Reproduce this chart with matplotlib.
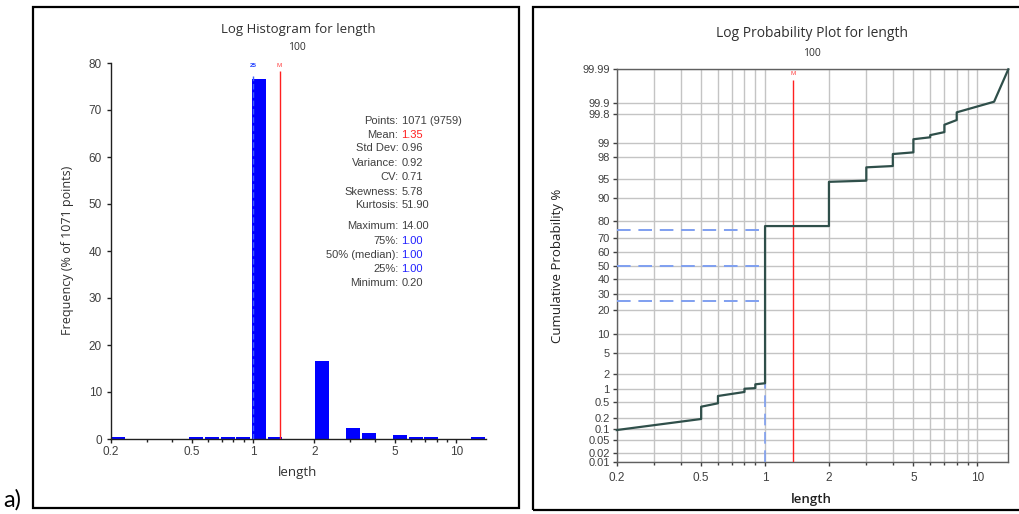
import numpy as np
import matplotlib
matplotlib.use("Agg")
import matplotlib.pyplot as plt
from matplotlib.patches import Rectangle
from matplotlib.ticker import FixedLocator, NullLocator, NullFormatter
from statistics import NormalDist

# ---- histogram data (log bins, % of 1071 points) ----
bar_left = [0.200, 0.486, 0.580, 0.693, 0.828, 0.988, 1.180, 2.011, 2.868, 3.425, 4.885, 5.834, 6.966, 11.87]
bar_right = [0.234, 0.570, 0.680, 0.812, 0.970, 1.158, 1.383, 2.357, 3.361, 4.014, 5.725, 6.837, 8.164, 13.91]
bar_height = [0.4, 0.4, 0.4, 0.4, 0.4, 76.5, 0.4, 16.7, 2.4, 1.3, 0.9, 0.4, 0.4, 0.4]

mean_val = 1.35
quartile_val = 1.0

stat_names = ["Points:", "Mean:", "Std Dev:", "Variance:", "CV:", "Skewness:", "Kurtosis:",
              "Maximum:", "75%:", "50% (median):", "25%:", "Minimum:"]
stat_values = ["1071 (9759)", "1.35", "0.96", "0.92", "0.71", "5.78", "51.90",
               "14.00", "1.00", "1.00", "1.00", "0.20"]
stat_colors = ["#404040", "#ff2020", "#404040", "#404040", "#404040", "#404040", "#404040",
               "#404040", "#2020ff", "#2020ff", "#2020ff", "#404040"]
stat_rows_px = [121.3, 134.7, 148.3, 163, 176.7, 191.7, 205.3, 226, 240.7, 254.7, 269, 283]

# ---- cumulative probability curve (length, cumulative %) ----
cdf_x = [0.2, 0.5, 0.5, 0.6, 0.6, 0.8, 0.8, 0.9, 0.9, 1.0, 1.0, 2.0, 2.0, 3.0, 3.0, 4.0, 4.0,
         5.0, 5.0, 6.0, 6.0, 7.0, 7.0, 8.0, 8.0, 12.0, 14.0]
cdf_p = [0.094, 0.187, 0.383, 0.463, 0.687, 0.847, 1.00, 1.03, 1.245, 1.31, 77.4, 77.4, 94.4,
         94.64, 96.88, 97.05, 98.28, 98.41, 99.17, 99.25, 99.33, 99.43, 99.62, 99.71, 99.816,
         99.905, 99.99]
quartiles_p = [25, 50, 75]

prob_ticks = [0.01, 0.02, 0.05, 0.1, 0.2, 0.5, 1, 2, 5, 10, 20, 30, 40, 50, 60, 70, 80,
              90, 95, 98, 99, 99.8, 99.9, 99.99]
prob_labels = ["0.01", "0.02", "0.05", "0.1", "0.2", "0.5", "1", "2", "5", "10", "20", "30",
               "40", "50", "60", "70", "80", "90", "95", "98", "99", "99.8", "99.9", "99.99"]
x_major = [0.2, 0.5, 1, 2, 5, 10]
x_major_labels = ["0.2", "0.5", "1", "2", "5", "10"]
x_minor = [0.3, 0.4, 0.6, 0.7, 0.8, 0.9, 3, 4, 6, 7, 8, 9]

W, H = 1019, 514
fig = plt.figure(figsize=(W / 100, H / 100), dpi=100)
fig.patch.set_facecolor("white")


def fx(x):
    return x / W


def fy(y):
    return 1 - y / H


TXT = "#303030"
TICK = "#404040"
TITLE_FONT = ["Open Sans", "DejaVu Sans"]
TICK_FONT = ["Liberation Sans", "DejaVu Sans"]

# outer frames
fig.patches.append(Rectangle((fx(33.3), fy(508.3)), fx(519.3 - 33.3), (508.3 - 7) / H,
                             transform=fig.transFigure, fill=False, lw=1.6, ec="black"))
fig.patches.append(Rectangle((fx(532.7), fy(509.5)), fx(1030 - 532.7), (509.5 - 7) / H,
                             transform=fig.transFigure, fill=False, lw=1.6, ec="black",
                             clip_on=False))
fig.text(fx(3), fy(507), "a)", fontsize=17, family=["Lato", "DejaVu Sans"], color="black",
         ha="left", va="baseline")

# ================= left: log histogram =================
ax1 = fig.add_axes([fx(111), fy(439), fx(486 - 111), (439 - 63) / H])
widths = [r - l for l, r in zip(bar_left, bar_right)]
ax1.bar(bar_left, bar_height, width=widths, align="edge", color="#0000ff", lw=0, zorder=2)
ax1.set_xscale("log")
ax1.set_xlim(0.2, 14)
ax1.set_ylim(0, 80)
ax1.vlines(quartile_val, 0, 77.3, colors="#4060ff", lw=1, linestyles=(0, (4, 2)), zorder=3)
ax1.vlines(mean_val, 0, 78.2, colors="#ff2020", lw=1, zorder=3)
ax1.text(quartile_val, 79.5, "25", color="#2040ff", fontsize=4.5, fontweight="bold",
         ha="center", va="center", family=TICK_FONT)
ax1.text(mean_val, 79.5, "M", color="#ff4040", fontsize=4.5, ha="center", va="center",
         family=TICK_FONT)

ax1.xaxis.set_major_locator(FixedLocator(x_major))
ax1.set_xticklabels(x_major_labels)
ax1.xaxis.set_minor_locator(FixedLocator(x_minor))
ax1.xaxis.set_minor_formatter(NullFormatter())
ax1.set_yticks(range(0, 81, 10))
for s in ["top", "right"]:
    ax1.spines[s].set_visible(False)
for s in ["left", "bottom"]:
    ax1.spines[s].set_color("#202020")
    ax1.spines[s].set_linewidth(1.0)
ax1.tick_params(which="both", direction="out", color="#202020", labelcolor=TICK,
                labelsize=8.5, length=3, width=1)
ax1.tick_params(which="minor", length=2)
ax1.tick_params(axis="x", pad=2)
for lab in ax1.get_xticklabels() + ax1.get_yticklabels():
    lab.set_family(TICK_FONT)

fig.text(fx(298), fy(30), "Log Histogram for length", ha="center", va="center",
         fontsize=9.5, color=TXT, family=TITLE_FONT)
fig.text(fx(297), fy(47.5), "100", ha="center", va="center", fontsize=7.5, color=TXT,
         family=TITLE_FONT)
fig.text(fx(68), fy(250), "Frequency (% of 1071 points)", rotation=90, ha="center",
         va="center", fontsize=9, color=TXT, family=TITLE_FONT)
fig.text(fx(298), fy(472.7), "length", ha="center", va="center", fontsize=9.5, color=TXT,
         family=TITLE_FONT)

for name, val, col, ypx in zip(stat_names, stat_values, stat_colors, stat_rows_px):
    fig.text(fx(398.5), fy(ypx), name, ha="right", va="center", fontsize=8, color="#404040",
             family=TICK_FONT)
    fig.text(fx(401.5), fy(ypx), val, ha="left", va="center", fontsize=8, color=col,
             family=TICK_FONT)

# ================= right: log probability plot =================
_nd = NormalDist()
_ppf = np.vectorize(_nd.inv_cdf, otypes=[float])
_cdf = np.vectorize(_nd.cdf, otypes=[float])


def prob_fwd(p):
    p = np.clip(np.asarray(p, dtype=float), 1e-6, 100 - 1e-6) / 100
    return _ppf(p)


def prob_inv(z):
    return _cdf(np.asarray(z, dtype=float)) * 100


ax2 = fig.add_axes([fx(616.7), fy(462.3), fx(1008.3 - 616.7), (462.3 - 69.3) / H])
ax2.set_xscale("log")
ax2.set_yscale("function", functions=(prob_fwd, prob_inv))
ax2.set_xlim(0.2, 14)
ax2.set_ylim(0.01, 99.99)

ax2.xaxis.set_major_locator(FixedLocator(x_major))
ax2.set_xticklabels(x_major_labels)
ax2.xaxis.set_minor_locator(FixedLocator(x_minor))
ax2.xaxis.set_minor_formatter(NullFormatter())
ax2.yaxis.set_major_locator(FixedLocator(prob_ticks))
ax2.set_yticklabels(prob_labels)
ax2.yaxis.set_minor_locator(NullLocator())
ax2.grid(True, which="both", axis="x", color="#c4c4c4", lw=1)
ax2.grid(True, which="major", axis="y", color="#c4c4c4", lw=1)
ax2.set_axisbelow(True)
for s in ax2.spines.values():
    s.set_color("#606060")
    s.set_linewidth(1.0)
ax2.tick_params(which="both", direction="out", color="#404040", labelcolor=TICK,
                labelsize=8.5, length=3, width=1, pad=2)
ax2.tick_params(which="minor", length=2)
ax2.tick_params(axis="x", pad=4)
ax2.tick_params(axis="y", labelsize=8)
for lab in ax2.get_xticklabels() + ax2.get_yticklabels():
    lab.set_family(TICK_FONT)

# quartile guides
ax2.hlines(quartiles_p, 0.2, quartile_val, colors="#7f9ff0", lw=1.4,
           linestyles=(0, (7, 4)), zorder=3)
ax2.vlines(quartile_val, 0.01, max(quartiles_p), colors="#7f9ff0", lw=1.2,
           linestyles=(0, (7, 4)), zorder=3)
# mean line
ax2.vlines(mean_val, 0.01, 99.978, colors="#ff2020", lw=1, zorder=3)
ax2.text(mean_val, 99.986, "M", color="#ff4040", fontsize=4.5, ha="center", va="center",
         family=TICK_FONT)
# cumulative curve
ax2.plot(cdf_x, cdf_p, color="#2f4f4a", lw=1.6, zorder=4, clip_on=False)

fig.text(fx(812), fy(33.3), "Log Probability Plot for length", ha="center", va="center",
         fontsize=10, color=TXT, family=TITLE_FONT)
fig.text(fx(812), fy(53.3), "100", ha="center", va="center", fontsize=7.5, color=TXT,
         family=TITLE_FONT)
fig.text(fx(558), fy(266), "Cumulative Probability %", rotation=90, ha="center",
         va="center", fontsize=9.5, color="#202020", family=TITLE_FONT)
fig.text(fx(811.7), fy(499), "length", ha="center", va="center", fontsize=9.5,
         color="#202020", family=TITLE_FONT, fontweight="semibold")

fig.savefig("out.png", dpi=100)
